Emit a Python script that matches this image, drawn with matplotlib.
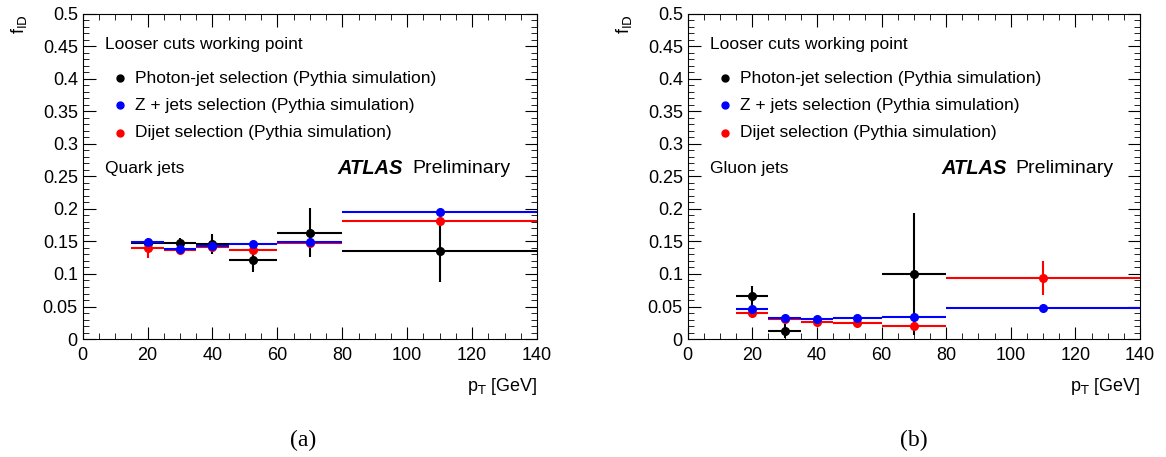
import numpy as np
import matplotlib.pyplot as plt
from matplotlib.ticker import MultipleLocator

plt.rcParams['font.family'] = ['Liberation Sans', 'DejaVu Sans']

# bins in pT [GeV]
bin_lo = [15, 25, 35, 45, 60, 80]
bin_hi = [25, 35, 45, 60, 80, 140]
pt = [20, 30, 40, 52.5, 70, 110]

# quark jets
q_gam = [0.147, 0.148, 0.146, 0.1215, 0.1636, 0.135]
q_gam_err = [0.006, 0.007, 0.015, 0.018, 0.038, 0.047]
q_z = [0.1487, 0.1385, 0.1436, 0.1456, 0.149, 0.196]
q_z_err = [0.003, 0.003, 0.003, 0.003, 0.003, 0.003]
q_dij = [0.140, 0.137, 0.141, 0.137, 0.148, 0.181]
q_dij_err = [0.015, 0.005, 0.004, 0.004, 0.004, 0.004]

# gluon jets (photon-jet only shown where visible)
g_gam_pt = [20, 30, 70]
g_gam_lo = [15, 25, 60]
g_gam_hi = [25, 35, 80]
g_gam = [0.066, 0.0123, 0.100]
g_gam_err = [0.015, 0.011, 0.094]
g_z = [0.0457, 0.0323, 0.0313, 0.0328, 0.0344, 0.0482]
g_z_err = [0.003, 0.002, 0.002, 0.002, 0.002, 0.002]
g_dij = [0.0405, 0.031, 0.0256, 0.025, 0.020, 0.0933]
g_dij_err = [0.005, 0.002, 0.002, 0.002, 0.002, 0.026]


def draw_series(ax, x, lo, hi, y, yerr, color):
    x = np.array(x)
    xerr = [x - np.array(lo), np.array(hi) - x]
    ax.errorbar(x, y, xerr=xerr, yerr=yerr, fmt='o', color=color,
                markersize=5.5, elinewidth=1.5, capsize=0)


def style_axes(ax, label):
    ax.set_xlim(0, 140)
    ax.set_ylim(0, 0.5)
    ax.xaxis.set_major_locator(MultipleLocator(20))
    ax.xaxis.set_minor_locator(MultipleLocator(5))
    ax.yaxis.set_major_locator(MultipleLocator(0.05))
    ax.yaxis.set_minor_locator(MultipleLocator(0.01))
    ax.tick_params(which='both', direction='in', top=True, right=True, labelsize=13)
    ax.tick_params(which='major', length=9)
    ax.tick_params(which='minor', length=4.5)
    ax.tick_params(axis='x', pad=6)
    ax.set_yticks(np.arange(0, 0.501, 0.05))
    ax.set_yticklabels(['0'] + [f'{v:g}' for v in np.arange(0.05, 0.501, 0.05)])
    ax.text(-0.162, 1.0, r'f$_{\mathrm{ID}}$', transform=ax.transAxes, rotation=90,
            ha='left', va='top', fontsize=13)
    ax.text(1.0, -0.115, r'p$_{\mathrm{T}}$ [GeV]', transform=ax.transAxes,
            ha='right', va='top', fontsize=13)
    ax.text(0.05, 0.905, 'Looser cuts working point', transform=ax.transAxes,
            fontsize=12.5, va='center')
    labels = ['Photon-jet selection (Pythia simulation)',
              'Z + jets selection (Pythia simulation)',
              'Dijet selection (Pythia simulation)']
    for i, (c, t) in enumerate(zip(['black', 'blue', 'red'], labels)):
        yy = 0.803 - i * 0.0845
        ax.plot([0.082], [yy], 'o', color=c, markersize=5, transform=ax.transAxes)
        ax.text(0.115, yy, t, transform=ax.transAxes, fontsize=12.5, va='center')
    ax.text(0.05, 0.526, label, transform=ax.transAxes, fontsize=12.5, va='center')
    ax.text(0.56, 0.526, 'ATLAS', transform=ax.transAxes, fontsize=14.5,
            fontweight='bold', style='italic', va='center')
    ax.text(0.725, 0.526, 'Preliminary', transform=ax.transAxes, fontsize=14,
            va='center', ha='left')


fig = plt.figure(figsize=(11.66, 4.57), dpi=100)
ax1 = fig.add_axes([0.0709, 0.2582, 0.3897, 0.7112])
ax2 = fig.add_axes([0.5898, 0.2582, 0.3879, 0.7112])

draw_series(ax1, pt, bin_lo, bin_hi, q_gam, q_gam_err, 'black')
draw_series(ax1, pt, bin_lo, bin_hi, q_dij, q_dij_err, 'red')
draw_series(ax1, pt, bin_lo, bin_hi, q_z, q_z_err, 'blue')
style_axes(ax1, 'Quark jets')

draw_series(ax2, g_gam_pt, g_gam_lo, g_gam_hi, g_gam, g_gam_err, 'black')
draw_series(ax2, pt, bin_lo, bin_hi, g_dij, g_dij_err, 'red')
draw_series(ax2, pt, bin_lo, bin_hi, g_z, g_z_err, 'blue')
style_axes(ax2, 'Gluon jets')

fig.text(0.26, 0.025, '(a)', ha='center', fontsize=17, family='Liberation Serif')
fig.text(0.784, 0.025, '(b)', ha='center', fontsize=17, family='Liberation Serif')

fig.savefig('out.png', dpi=100)
